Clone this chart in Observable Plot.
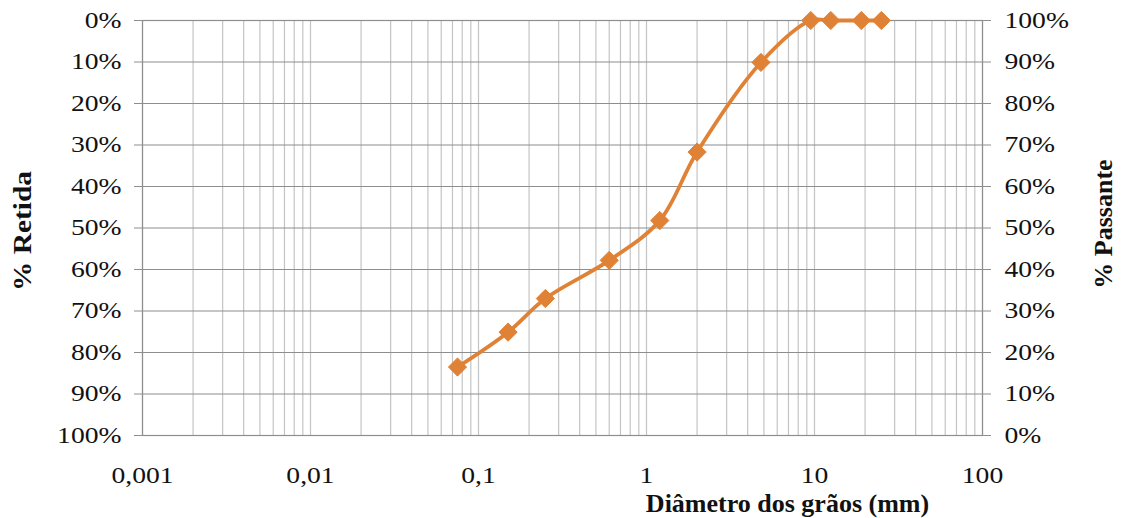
<!DOCTYPE html>
<html><head><meta charset="utf-8">
<script src="https://cdn.jsdelivr.net/npm/d3@7"></script>
<script src="https://cdn.jsdelivr.net/npm/@observablehq/plot@0.6"></script>
<style>
body{margin:0;background:#fff}
svg{font-family:"Liberation Serif","Times New Roman",serif}
</style>
</head><body><div id="chart"></div>
<script>
// Data
const diametros = [0.075, 0.15, 0.25, 0.6, 1.2, 2.0, 4.8, 9.5, 12.5, 19, 25];
const retida = [83.5, 75.1, 67.0, 57.8, 48.2, 31.7, 10.1, 0, 0, 0, 0];
const xTicks = [0.001, 0.01, 0.1, 1, 10, 100];
const xTickLabels = ["0,001", "0,01", "0,1", "1", "10", "100"];
const yTicks = [0, 10, 20, 30, 40, 50, 60, 70, 80, 90, 100];
const decades = [0.001, 0.01, 0.1, 1, 10];
const multiples = [1, 2, 3, 4, 5, 6, 7, 8, 9];

const xGrid = [];
for (const d of decades) for (const m of multiples) xGrid.push(+(d * m).toPrecision(3));
xGrid.push(100);

const data = diametros.map((d, i) => ({d, r: retida[i]}));
const orange = "#E08236";

const chart = Plot.plot({
  width: 1122,
  height: 518,
  marginLeft: 142,
  marginRight: 140,
  marginTop: 20,
  marginBottom: 83,
  style: {fontFamily: '"Liberation Serif","Times New Roman",serif', background: "#fff", overflow: "visible"},
  x: {type: "log", domain: [0.001, 100]},
  y: {domain: [0, 100], reverse: true},
  marks: [
    Plot.ruleX(xGrid, {stroke: "#c4c4c4", strokeWidth: 1.2}),
    Plot.ruleY(yTicks, {stroke: "#8e8e8e", strokeWidth: 1.2}),
    Plot.frame({stroke: "#8e8e8e", strokeWidth: 1.2}),
    Plot.axisY({anchor: "left", ticks: yTicks, tickFormat: d => d + "%", tickSize: 8, tickPadding: 13,
      stroke: "#8e8e8e", fontSize: 23, fill: "#111", label: null}),
    Plot.axisY({anchor: "right", ticks: yTicks, tickFormat: d => (100 - d) + "%", tickSize: 8, tickPadding: 14,
      stroke: "#8e8e8e", fontSize: 23, fill: "#111", label: null}),
    Plot.axisX({anchor: "bottom", ticks: xTicks, tickFormat: (d, i) => xTickLabels[xTicks.indexOf(d)],
      tickSize: 0, tickPadding: 31, fontSize: 23, fill: "#111", label: null}),
    Plot.line(data, {x: "d", y: "r", stroke: orange, strokeWidth: 3.8, curve: "catmull-rom"}),
    Plot.dot(data, {x: "d", y: "r", symbol: "diamond2", r: 8.2, fill: orange, stroke: orange, strokeWidth: 1}),
    Plot.text(["Diâmetro dos grãos (mm)"], {frameAnchor: "bottom", dx: 225, dy: 58, lineAnchor: "top",
      textAnchor: "middle", fontSize: 26, fontWeight: "bold", fill: "#111"}),
    Plot.text(["% Retida"], {frameAnchor: "left", dx: -120, dy: 3, rotate: -90, textAnchor: "middle",
      lineAnchor: "middle", fontSize: 26, fontWeight: "bold", fill: "#111"}),
    Plot.text(["% Passante"], {frameAnchor: "right", dx: 121, dy: -4, rotate: -90, textAnchor: "middle",
      lineAnchor: "middle", fontSize: 26, fontWeight: "bold", fill: "#111"})
  ]
});
document.getElementById("chart").appendChild(chart);

// The reference's text is drawn horizontally wider than the font's natural width
d3.select(chart).selectAll('g[aria-label$="tick label"] text').each(function () {
  const len = this.getComputedTextLength();
  this.setAttribute("textLength", (len * 1.2).toFixed(1));
  this.setAttribute("lengthAdjust", "spacingAndGlyphs");
});
d3.select(chart).selectAll('g[aria-label="text"] text').each(function () {
  if (this.textContent === "% Retida") {
    this.setAttribute("textLength", 120);
    this.setAttribute("lengthAdjust", "spacingAndGlyphs");
  }
});
</script>
</body></html>
